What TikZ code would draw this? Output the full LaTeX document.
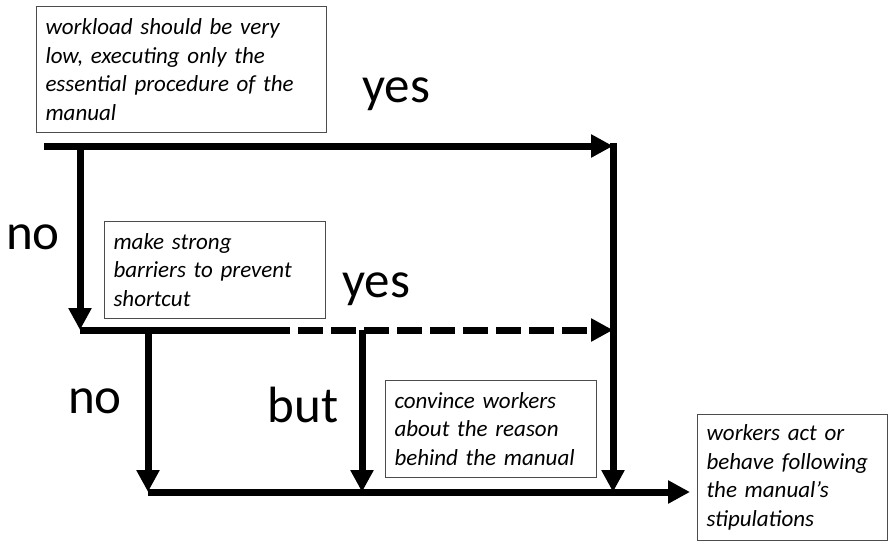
\documentclass[tikz,border=0pt]{standalone}
\usepackage{fontspec}
\setmainfont{Carlito}
\usetikzlibrary{arrows.meta,positioning}

\tikzset{
  note/.style={draw=black!70, line width=1pt, rectangle, anchor=north west, align=left,
    font=\itshape\fontsize{23}{28.5}\selectfont, inner xsep=9pt, inner ysep=5pt},
  flow/.style={line width=7pt, -{Triangle[length=22pt,width=22pt]}},
  plain/.style={line width=7pt},
  answer/.style={anchor=base, inner sep=0pt, font=\fontsize{51}{51}\selectfont}
}

\begin{document}
\begin{tikzpicture}[x=1pt,y=-1pt]
  \useasboundingbox (0,0) rectangle (888,541);
  % boxes
  \node[note, text width=272pt, minimum height=126pt] at (36,6) (lowload)
    {workload should be very\\low, executing only the\\essential procedure of the\\manual};
  \node[note, text width=203pt, minimum height=97pt] at (104,221) (barrier)
    {make strong\\barriers to prevent\\shortcut};
  \node[note, text width=193pt, minimum height=97pt] at (385,380) (convince)
    {convince workers\\about the reason\\behind the manual};
  \node[note, text width=172pt, minimum height=126pt] at (697,414) (follow)
    {workers act or\\behave following\\the manual's\\stipulations};
  % labels
  \node[answer] at (396,102) (yesA) {yes};
  \node[answer] at (33,249) (noA) {no};
  \node[answer] at (376,297) (yesB) {yes};
  \node[answer] at (95,413) (noB) {no};
  \node[answer] at (303,422) (butB) {but};
  % junctions
  \coordinate (start) at (44,146);
  \coordinate (splitA) at (80,146);
  \coordinate (joinA) at (613,146);
  \coordinate (topA) at (613,142.5);
  \coordinate (splitB) at (80,330);
  \coordinate (solidB) at (290,330);
  \coordinate (dashB) at (298,330);
  \coordinate (joinB) at (613,330);
  \coordinate (dropB) at (148,330);
  \coordinate (dropC) at (362,330);
  \coordinate (endA) at (613,492);
  \coordinate (endB) at (148,492);
  \coordinate (endC) at (362,492);
  \coordinate (goal) at (690,492);
  % connectors
  \draw[flow] (start) -- (joinA);
  \draw[flow] (topA) -- (endA);
  \draw[flow] (splitA) -- (splitB);
  \draw[plain] (splitB) -- (solidB);
  \draw[flow, dash pattern=on 25pt off 8pt] (dashB) -- (joinB);
  \draw[flow] (dropB) -- (endB);
  \draw[flow] (dropC) -- (endC);
  \draw[flow] (endB) -- (goal);
\end{tikzpicture}
\end{document}
